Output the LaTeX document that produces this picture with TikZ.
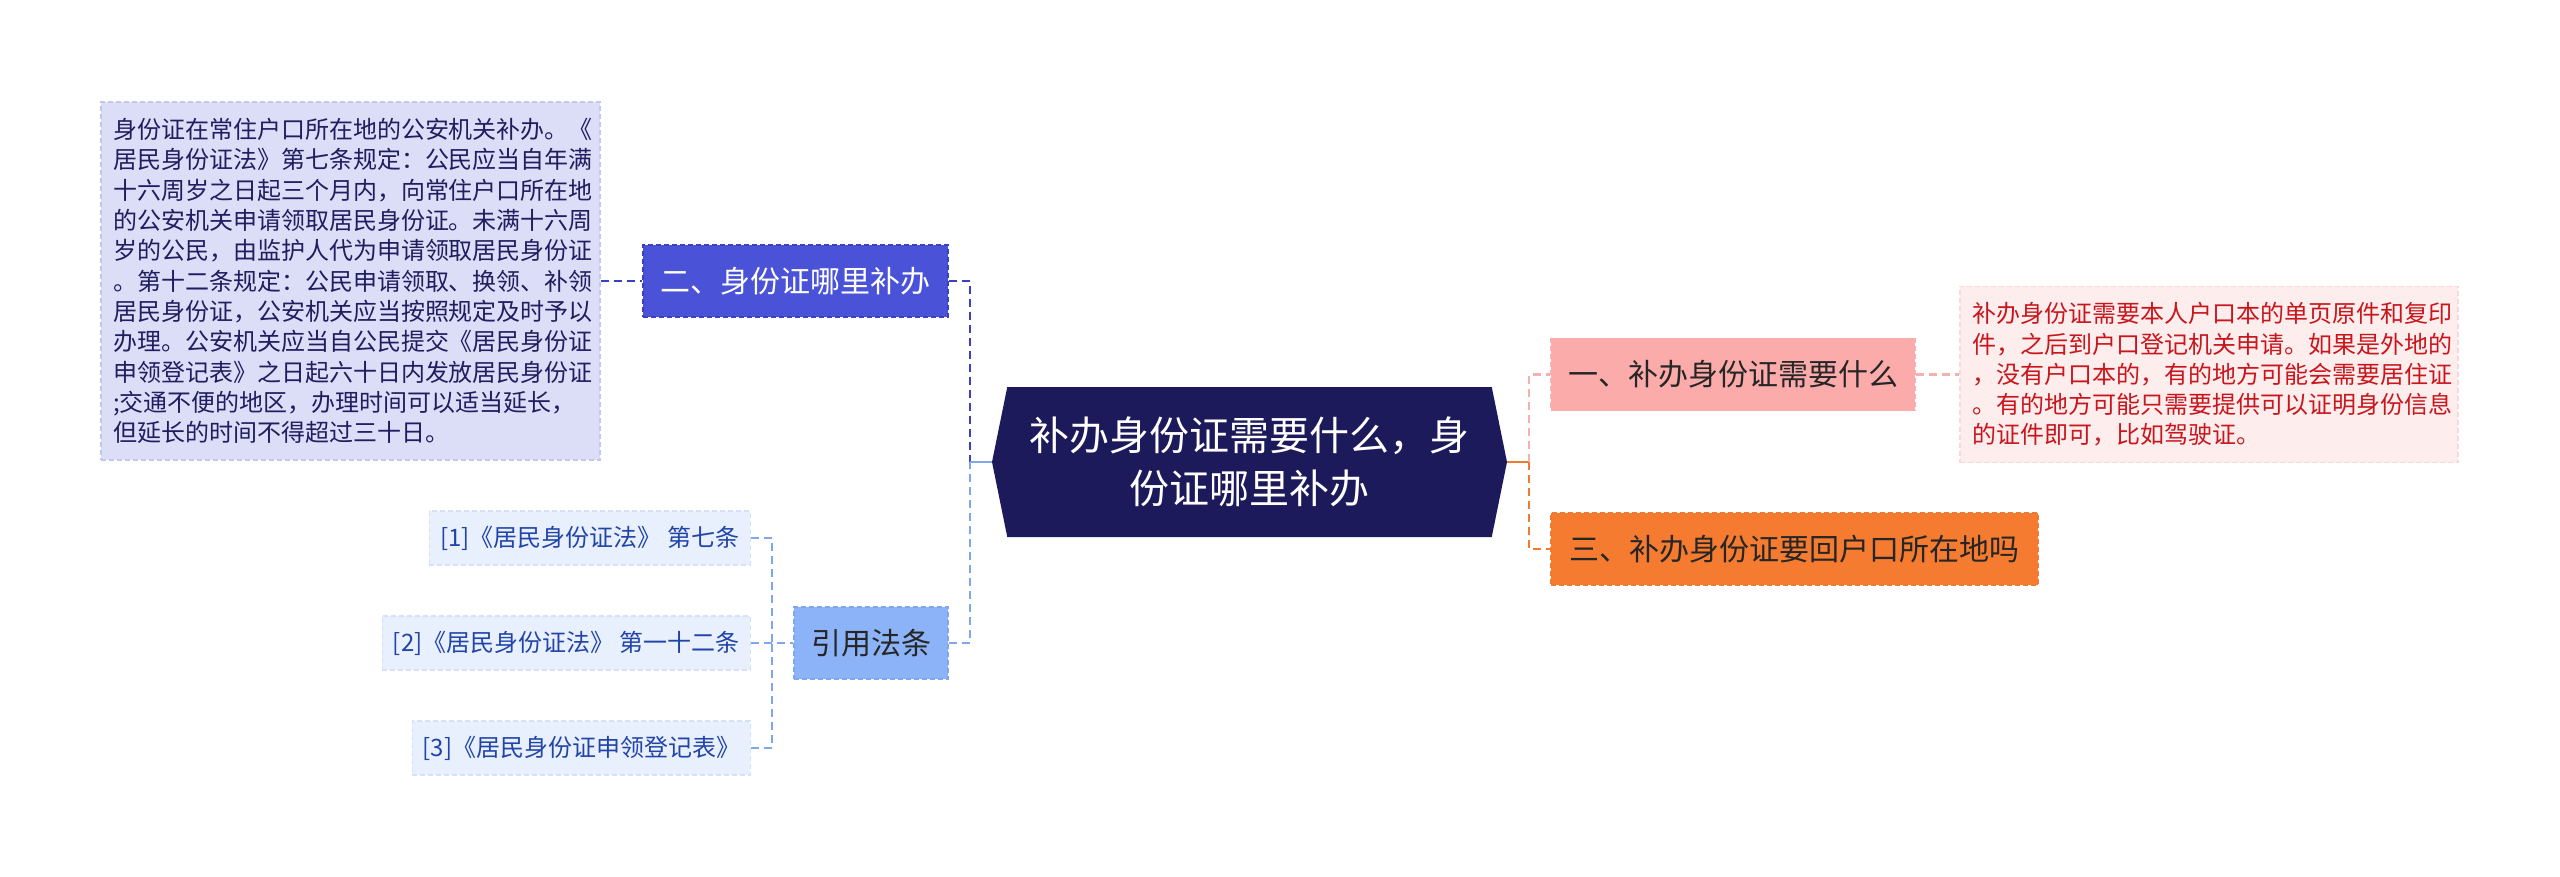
\documentclass[tikz,border=0pt]{standalone}
\usepackage{fontspec}
\setmainfont{Noto Sans CJK SC}
\usetikzlibrary{shapes.symbols, positioning}

\definecolor{rootnavy}{HTML}{1C1A5A}
\definecolor{bluedark}{HTML}{4A52D8}
\definecolor{bluelink}{HTML}{3A3FC4}
\definecolor{bluenote}{HTML}{DCDDF6}
\definecolor{bluenoteline}{HTML}{C5C6EE}
\definecolor{bluenotetext}{HTML}{1E1E60}
\definecolor{bluelight}{HTML}{8CB3F7}
\definecolor{bluelightlink}{HTML}{7FA7EE}
\definecolor{bluepale}{HTML}{E8F0FD}
\definecolor{bluepaleline}{HTML}{D3E1FA}
\definecolor{bluereftext}{HTML}{2244A8}
\definecolor{pinktopic}{HTML}{FCABAB}
\definecolor{pinklink}{HTML}{F6B0B0}
\definecolor{pinknote}{HTML}{FDEDED}
\definecolor{pinknoteline}{HTML}{F8D8D8}
\definecolor{rednotetext}{HTML}{C8161D}
\definecolor{orangetopic}{HTML}{F57B30}
\definecolor{orangelink}{HTML}{F07A30}

\begin{document}
\begin{tikzpicture}[
        x=1pt, y=-1pt,
        rootbox/.style={
            signal,
            signal to=west and east,
            signal pointer angle=157,
            fill=rootnavy,
            text=white,
            align=center,
            minimum width=515pt,
            minimum height=150pt,
            inner sep=0pt,
            font=\fontsize{40}{53}\selectfont
        },
        topicbox/.style={
            rectangle,
            draw,
            line width=1.3pt,
            dash pattern=on 5pt off 3pt,
            minimum height=72pt,
            inner xsep=16pt,
            font=\fontsize{30}{36}\selectfont
        },
        notebox/.style={
            rectangle,
            draw,
            line width=1.3pt,
            dash pattern=on 5pt off 3pt,
            align=left,
            inner xsep=12pt,
            font=\fontsize{24}{30.3}\selectfont
        },
        refbox/.style={
            rectangle,
            draw=bluepaleline,
            fill=bluepale,
            text=bluereftext,
            line width=1.3pt,
            dash pattern=on 5pt off 3pt,
            minimum height=54pt,
            anchor=east,
            font=\fontsize{24}{30}\selectfont
        },
        link/.style={
            line width=2.6pt,
            dash pattern=on 8pt off 5pt
        }
        ]

        \useasboundingbox (0,0) rectangle (2560,877);

        % centre
        \node (root) [rootbox] at (1249.5,462) {补办身份证需要什么，身\\份证哪里补办};

        % left branch
        \node (t2) [topicbox, draw=bluelink, fill=bluedark, text=white, minimum width=305pt] at (795.5,281) {二、身份证哪里补办};
        \node (n2) [notebox, draw=bluenoteline, fill=bluenote, text=bluenotetext, text width=475pt, minimum width=499pt, minimum height=358pt] at (350.5,281) {%
            身份证在常住户口所在地的公安机关补办。《\\
            居民身份证法》第七条规定：公民应当自年满\\
            十六周岁之日起三个月内，向常住户口所在地\\
            的公安机关申请领取居民身份证。未满十六周\\
            岁的公民，由监护人代为申请领取居民身份证\\
            。第十二条规定：公民申请领取、换领、补领\\
            居民身份证，公安机关应当按照规定及时予以\\
            办理。公安机关应当自公民提交《居民身份证\\
            申领登记表》之日起六十日内发放居民身份证\\
            ;交通不便的地区，办理时间可以适当延长，\\
            但延长的时间不得超过三十日。};

        \node (law) [topicbox, draw=bluelightlink, fill=bluelight, text=black!85, minimum width=154pt] at (871,643) {引用法条};
        \node (r1) [refbox, minimum width=321pt] at (751,538) {[1]《居民身份证法》 第七条};
        \node (r2) [refbox, minimum width=368pt] at (751,643) {[2]《居民身份证法》 第一十二条};
        \node (r3) [refbox, minimum width=338pt] at (751,748) {[3]《居民身份证申领登记表》};

        % right branch
        \node (t1) [topicbox, draw=pinklink, fill=pinktopic, text=black!85, minimum width=364pt] at (1733,374.5) {一、补办身份证需要什么};
        \node (n1) [notebox, draw=pinknoteline, fill=pinknote, text=rednotetext, text width=473pt, minimum width=498pt, minimum height=176pt] at (2209,374.5) {%
            补办身份证需要本人户口本的单页原件和复印\\
            件，之后到户口登记机关申请。如果是外地的\\
            ，没有户口本的，有的地方可能会需要居住证\\
            。有的地方可能只需要提供可以证明身份信息\\
            的证件即可，比如驾驶证。};
        \node (t3) [topicbox, draw=orangelink, fill=orangetopic, text=black!85, minimum width=487pt] at (1794.5,549) {三、补办身份证要回户口所在地吗};

        % connectors
        \coordinate (jl) at (970,462);
        \coordinate (jr) at (1529,462);
        \coordinate (jd) at (772,643);

        \draw [link, bluelink] (t2.east) -| (jl);
        \draw [link, bluelightlink] (law.east) -| (jl);
        \draw [line width=2.6pt, bluelightlink] (jl) -- (root.west);
        \draw [link, bluelink] (n2.east) -- (t2.west);

        \draw [link, bluelightlink] (r1.east) -| (jd);
        \draw [link, bluelightlink] (r3.east) -| (jd);
        \draw [link, bluelightlink] (r2.east) -- (law.west);

        \draw [line width=2.6pt, orangelink] (root.east) -- (jr);
        \draw [link, pinklink] (jr) |- (t1.west);
        \draw [link, orangelink] (jr) |- (t3.west);
        \draw [link, pinklink] (t1.east) -- (n1.west);

    \end{tikzpicture}
\end{document}
